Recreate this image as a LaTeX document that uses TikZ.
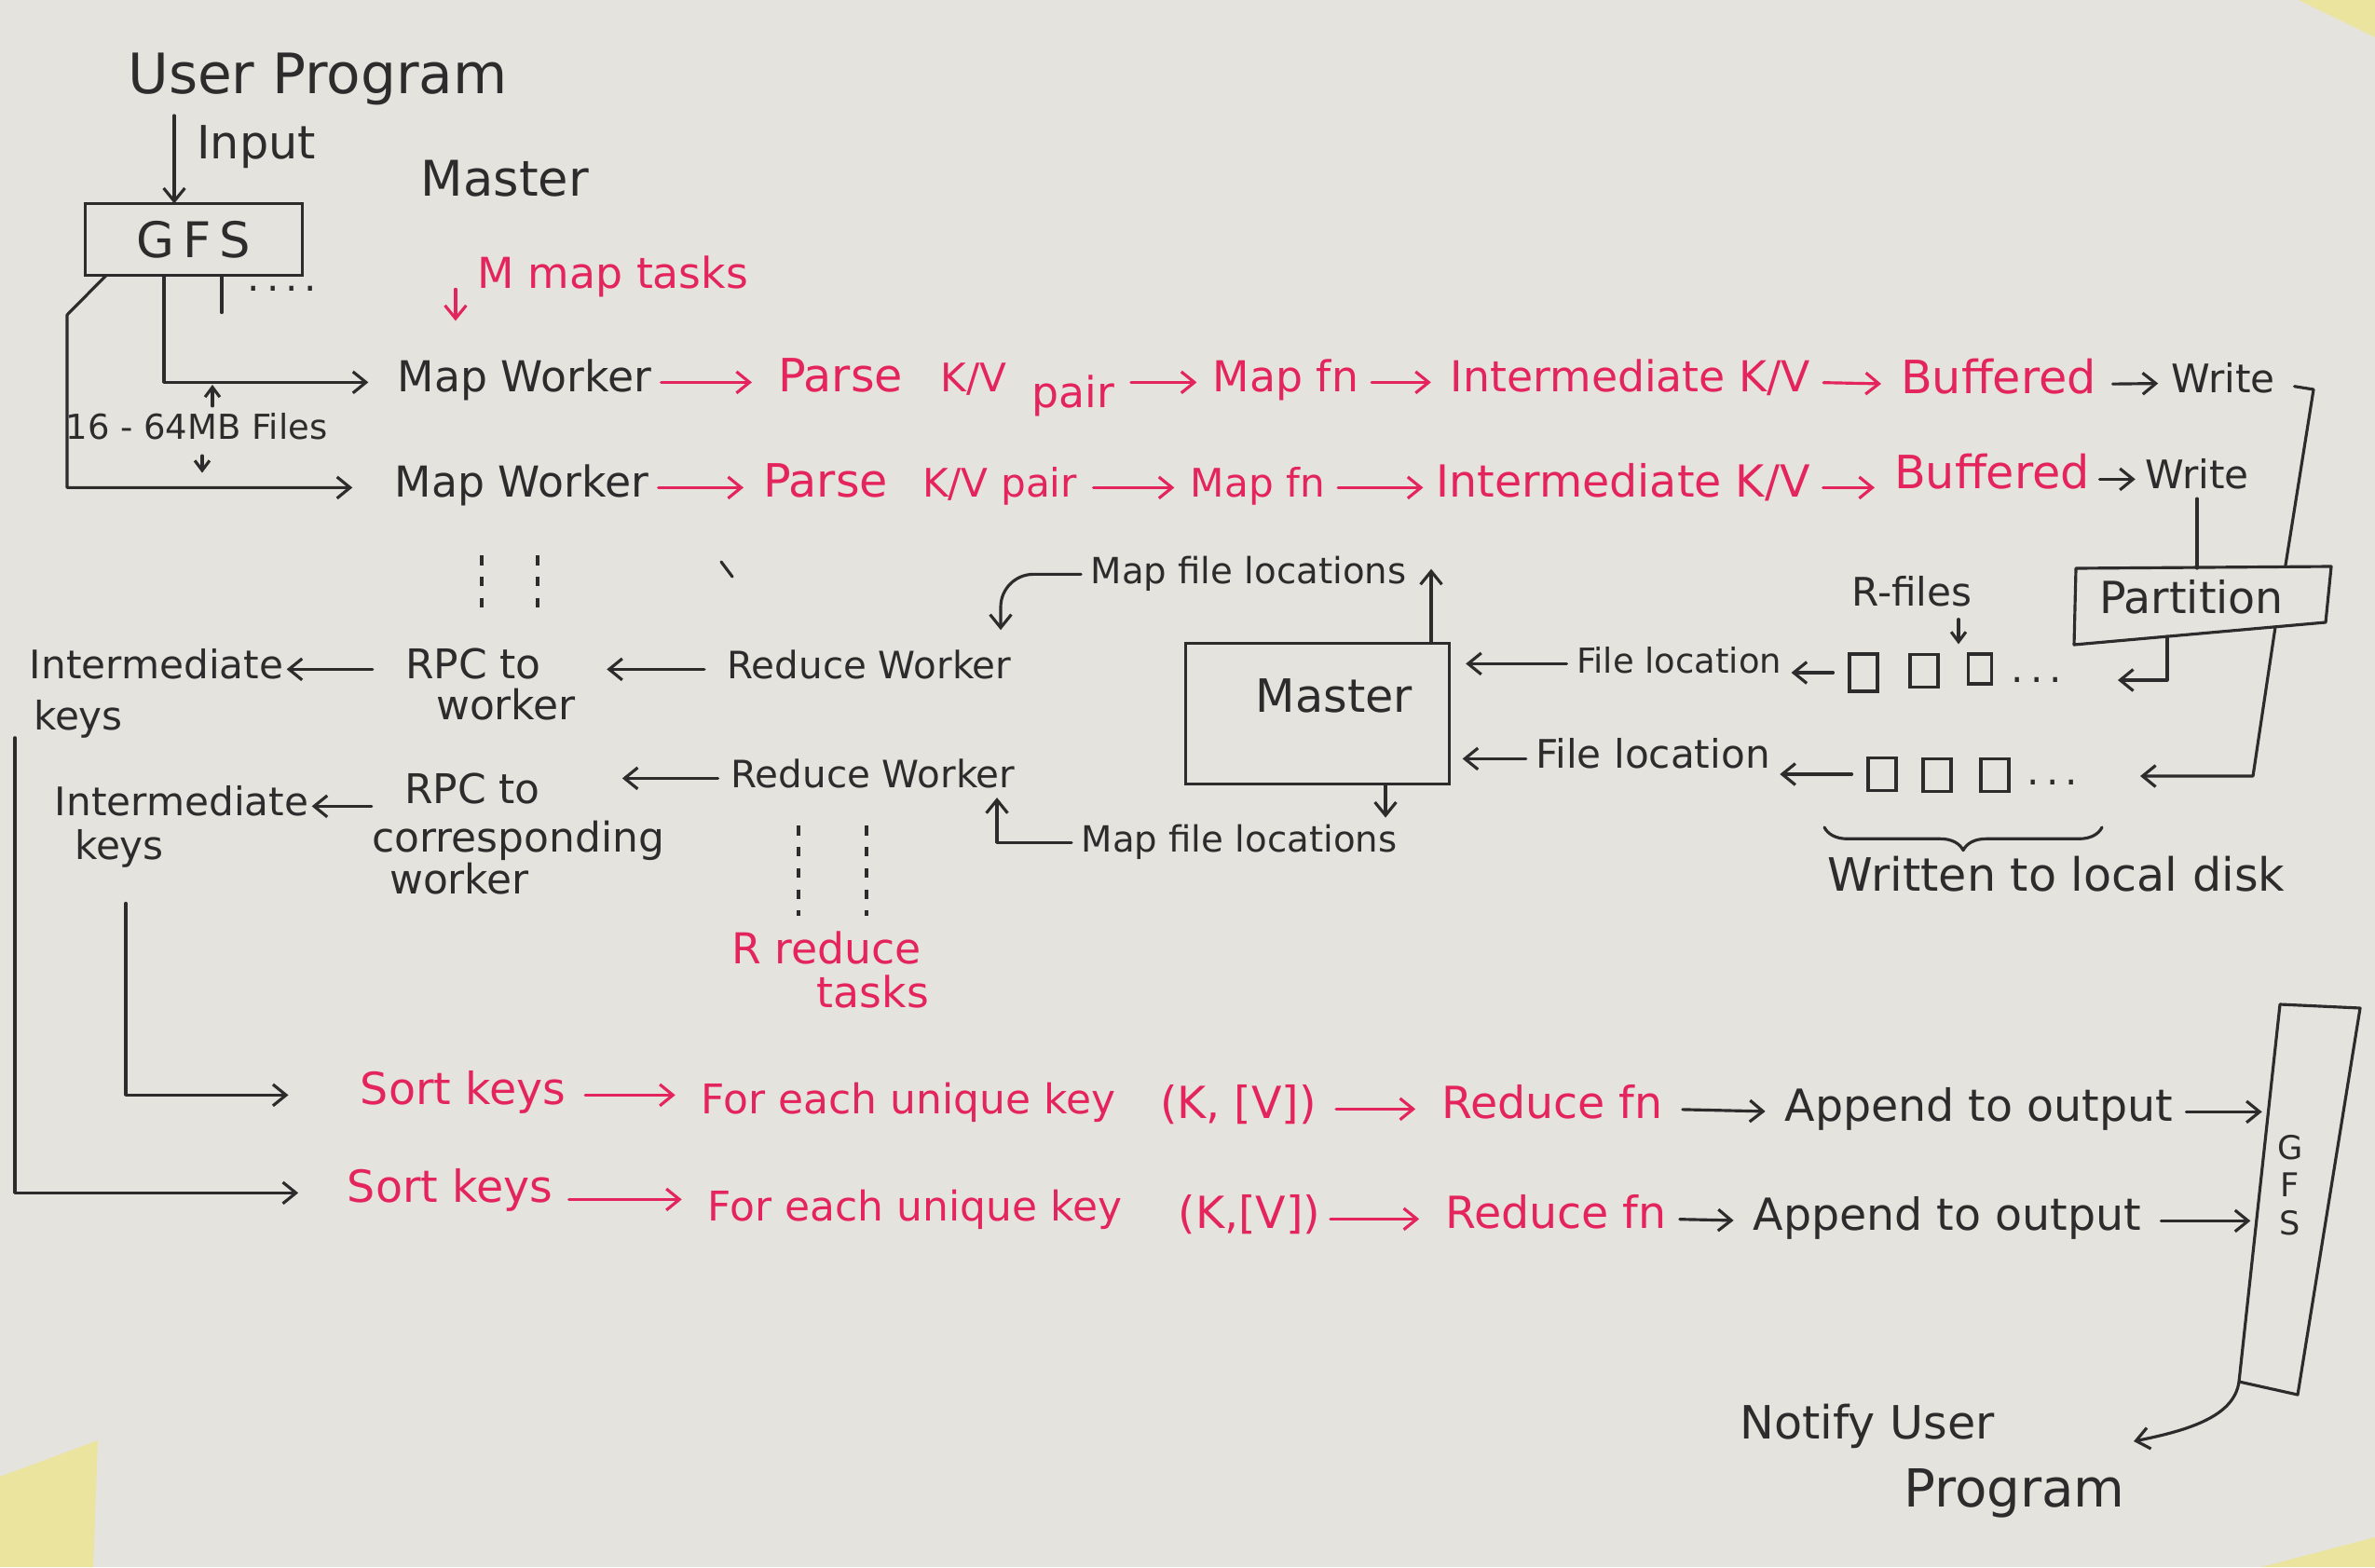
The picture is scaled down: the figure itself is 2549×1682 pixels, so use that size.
\documentclass[tikz,border=0pt]{standalone}
\usepackage{fontspec}
\setmainfont{DejaVu Sans}
\usetikzlibrary{arrows.meta,calc,decorations.pathreplacing}
\definecolor{paper}{RGB}{229,227,221}
\definecolor{ink}{RGB}{44,44,44}
\definecolor{redink}{RGB}{228,36,92}
\definecolor{sticky}{RGB}{234,228,158}
\newcommand{\fsz}[2]{\fontsize{#1}{#2}\selectfont}
\begin{document}
\begin{tikzpicture}[x=0.01cm, y=-0.01cm,
  every node/.style={inner sep=0pt, outer sep=0pt, text=ink},
  lbl/.style={anchor=base, font=\fsz{#1}{#1}},
  rt/.style={text=redink},
  ln/.style={draw=ink, line width=0.9pt, line cap=round, line join=round},
  arr/.style={ln, -{Straight Barb[length=4pt,width=6.5pt]}},
  sarr/.style={ln, -{Straight Barb[length=3pt,width=4.5pt]}},
  rarr/.style={arr, draw=redink},
  dsh/.style={ln, line cap=butt, dash pattern=on 3pt off 3.5pt},
  filebox/.style={draw=ink, line width=0.9pt, minimum width=0.30cm, minimum height=0.35cm},
]
% paper and the sticky notes peeking in at the corners
\fill[paper] (0,0) rectangle (2549,1682);
\useasboundingbox (0,0) rectangle (2549,1682);
\fill[sticky] (2467,0) -- (2549,0) -- (2549,40) -- cycle;
\fill[sticky] (0,1585) -- (105,1546) -- (100,1682) -- (0,1682) -- cycle;
\fill[sticky] (2427,1682) -- (2549,1650) -- (2549,1682) -- cycle;

% ---------------- input side ----------------
\node[lbl=17] (up) at (341,101) {User Program};
\node[lbl=14] (inp) at (275,171) {Input};
\node[lbl=15] (mtop) at (542,211) {Master};
\node[draw=ink, line width=0.9pt, minimum width=2.33cm, minimum height=0.77cm,
      font=\fsz{15}{15}] (gfs) at (208,257) {G\,F\,S};
\coordinate (xin) at (187,0);
\draw[arr, shorten <=3pt] (up.south -| xin) -- (gfs.north -| xin);

% map workers
\node[lbl=13] (mw1) at (563,420) {Map Worker};
\node[lbl=13] (mw2) at (560,533) {Map Worker};

% splits of the input files
\coordinate (x176) at (176,0);
\coordinate (x238) at (238,0);
\coordinate (x114) at (114,0);
\coordinate (bend) at (72,338);
\draw[arr, shorten >=9pt] (gfs.south -| x176) |- (mw1.mid west);
\draw[ln] (gfs.south -| x238) -- ++(0,40);
\node[font=\fsz{12}{12}] (gdots) at (303,310) {.\,.\,.\,.};
\draw[arr, shorten >=13pt] (gfs.south -| x114) -- (bend) |- (mw2.mid west);

\node[lbl=10.5] (files) at (211,471) {16 - 64MB Files};
\coordinate (x228) at (228,0);
\coordinate (x217) at (217,0);
\draw[sarr, shorten <=2pt] (files.north -| x228) -- ++(0,-30);
\draw[sarr, shorten <=5pt] (files.south -| x217) -- ++(0,36);

\node[lbl=13, rt] (mmt) at (658,309) {M map tasks};
\draw[rarr] (mmt.west) ++(-24,14) -- ++(0,34);

% ---------------- map phase, row 1 ----------------
\node[lbl=14, rt] (parse1) at (902,420) {Parse};
\node[lbl=12, rt] (kv1) at (1045,420) {K/V};
\node[lbl=13, rt] (pair1) at (1152,437) {pair};
\node[lbl=13, rt] (mapfn1) at (1380,420) {Map fn};
\node[lbl=13, rt] (inter1) at (1750,420) {Intermediate K/V};
\node[lbl=14, rt] (buf1) at (2145,422) {Buffered};
\node[lbl=12] (write1) at (2386,421) {Write};
\draw[rarr, shorten <=3pt, shorten >=8pt] (mw1.mid east) -- (parse1.mid west);
\draw[rarr, shorten <=5pt, shorten >=5pt] (pair1.east |- mapfn1.mid west) -- (mapfn1.mid west);
\draw[rarr, shorten <=4pt, shorten >=6pt] (mapfn1.mid east) -- (inter1.mid west);
\draw[rarr, shorten <=4pt, shorten >=6pt] (inter1.mid east) -- (buf1.mid west);
\draw[arr, shorten <=5pt, shorten >=4pt] (buf1.mid east) -- (write1.mid west);

% ---------------- map phase, row 2 ----------------
\node[lbl=14, rt] (parse2) at (886,533) {Parse};
\node[lbl=12, rt] (kvp2) at (1073,533) {K/V pair};
\node[lbl=12, rt] (mapfn2) at (1350,533) {Map fn};
\node[lbl=13.5, rt] (inter2) at (1742,533) {Intermediate K/V};
\node[lbl=14, rt] (buf2) at (2138,524) {Buffered};
\node[lbl=12] (write2) at (2358,524) {Write};
\draw[rarr, shorten <=3pt, shorten >=6pt] (mw2.mid east) -- (parse2.mid west);
\draw[rarr, shorten <=5pt, shorten >=5pt] (kvp2.mid east) -- (mapfn2.mid west);
\draw[rarr, shorten <=4pt, shorten >=4pt] (mapfn2.mid east) -- (inter2.mid west);
\draw[rarr, shorten <=4pt, shorten >=6pt] (inter2.mid east) -- (buf2.mid west |- inter2.mid east);
\draw[arr, shorten <=3pt, shorten >=3pt] (buf2.mid east) -- (write2.mid west);

% continuation marks
\draw[dsh] (517,596) -- (517,663);
\draw[dsh] (577,596) -- (577,663);
\draw[ln] (774,603) -- (786,619);

% ---------------- partition and local files ----------------
\coordinate (pa) at (2228,610);
\coordinate (pb) at (2502,608);
\coordinate (pc) at (2496,668);
\coordinate (pd) at (2226,692);
\draw[ln] (pa) -- (pb) -- (pc) -- (pd) -- cycle;
\node[lbl=13.5] (part) at (2352,658) {Partition};

\node[lbl=12] (rfl) at (2052,650) {R-files};
\node[filebox, minimum height=0.40cm] (f11) at (2000,722) {};
\node[filebox] (f12) at (2065,720) {};
\node[filebox, minimum width=0.25cm, minimum height=0.32cm] (f13) at (2125,718) {};
\node[font=\fsz{12}{12}] (dts1) at (2186,730) {.\,.\,.};
\node[filebox] (f21) at (2020,831) {};
\node[filebox] (f22) at (2079,832) {};
\node[filebox] (f23) at (2141,832) {};
\node[font=\fsz{12}{12}] (dts2) at (2203,840) {.\,.\,.};
\coordinate (xr) at (2102,0);
\draw[sarr, shorten <=4pt, shorten >=3pt] (rfl.south -| xr) -- (f13.north -| xr);

\coordinate (w1a) at (2483,418);
\coordinate (w1d) at (2418,833);
\draw[ln, shorten <=6pt] (write1.mid east) -- (w1a) -- ($(pa)!0.82!(pb)$);
\draw[arr, shorten >=19pt] ($(pd)!0.8!(pc)$) -- (w1d) -- (w1d -| dts2.east);
\draw[ln, shorten <=3pt] (write2.south) -- (write2.south |- pa);
\draw[arr, shorten >=17pt] ($(pd)!0.37!(pc)$) |- (dts1.east);

\draw[ln, decorate, decoration={brace, mirror, amplitude=7pt}] (1958,888) -- (2256,888);
\node[lbl=14] (wld) at (2207,956) {Written to local disk};

% ---------------- master ----------------
\node[draw=ink, line width=0.9pt, minimum width=2.83cm, minimum height=1.51cm] (master) at (1414,766) {};
\node[lbl=14] (mtxt) at (1432,764) {Master};
\node[lbl=11] (mfl1) at (1340,626) {Map file locations};
\node[lbl=11] (mfl2) at (1330,914) {Map file locations};
\node[lbl=10.5] (fl1) at (1802,722) {File location};
\node[lbl=12] (fl2) at (1774,824) {File location};
\draw[arr, shorten <=3pt, shorten >=5pt] (fl1.mid west) -- (fl1.mid west -| master.east);
\draw[arr, shorten <=5pt, shorten >=3pt] (f11.west) -- (f11.west -| fl1.east);
\draw[arr, shorten <=3pt, shorten >=4pt] (fl2.mid west) -- (fl2.mid west -| master.east);
\draw[arr, shorten <=5pt, shorten >=3pt] (f21.west) -- (f21.west -| fl2.east);

% ---------------- reduce workers ----------------
\node[lbl=12] (ik1) at (168,728) {Intermediate};
\node[lbl=12] (ky1) at (84,783) {keys};
\node[lbl=12.5] (rpc1) at (508,728) {RPC to};
\node[lbl=12.5] (wk1) at (543,772) {worker};
\node[lbl=11.5] (rw1) at (933,728) {Reduce Worker};
\draw[arr, shorten <=7pt, shorten >=20pt] (rw1.mid west) -- (rpc1.mid east |- rw1.mid west);
\draw[arr, shorten <=10pt, shorten >=1pt] (rpc1.mid west) -- (ik1.mid east);

\node[lbl=12] (ik2) at (195,875) {Intermediate};
\node[lbl=12] (ky2) at (128,922) {keys};
\node[lbl=12.5] (rpc2) at (507,862) {RPC to};
\node[lbl=12.5] (corr) at (556,914) {corresponding};
\node[lbl=12.5] (wk2) at (493,959) {worker};
\node[lbl=11.5] (rw2) at (937,845) {Reduce Worker};
\draw[arr, shorten <=4pt, shorten >=25pt] (rw2.mid west) -- (rpc2.mid east |- rw2.mid west);
\draw[arr, shorten <=10pt, shorten >=1pt] (rpc2.mid west |- ik2.mid east) -- (ik2.mid east);

\coordinate (xm1) at (1536,0);
\coordinate (xm2) at (1487,0);
\coordinate (xh1) at (1074,0);
\coordinate (xh2) at (1070,0);
\draw[arr, shorten >=4pt] (master.north -| xm1) -- (mfl1.north -| xm1);
\draw[arr, shorten >=2pt] (master.south -| xm2) -- (mfl2.north -| xm2);
\draw[arr, rounded corners=10pt, shorten <=3pt, shorten >=6pt] (mfl1.mid west) -| (rw1.north -| xh1);
\draw[arr, shorten <=3pt, shorten >=3pt] (mfl2.mid west) -| (rw2.south -| xh2);

\draw[dsh] (857,886) -- (857,983);
\draw[dsh] (930,886) -- (930,983);
\node[lbl=13, rt] (rrt) at (887,1034) {R reduce};
\node[lbl=13, rt] (tsk) at (937,1081) {tasks};

% ---------------- reduce phase ----------------
\node[lbl=13.5, rt] (sk1) at (497,1185) {Sort keys};
\node[lbl=12.5, rt] (fe1) at (975,1195) {For each unique key};
\node[lbl=13.5, rt] (kvb1) at (1329,1200) {(K, [V])};
\node[lbl=13.5, rt] (rf1) at (1666,1200) {Reduce fn};
\node[lbl=13.5] (ap1) at (2124,1203) {Append to output};

\node[lbl=13.5, rt] (sk2) at (483,1290) {Sort keys};
\node[lbl=12.5, rt] (fe2) at (982,1310) {For each unique key};
\node[lbl=13.5, rt] (kvb2) at (1341,1318) {(K,[V])};
\node[lbl=13.5, rt] (rf2) at (1670,1318) {Reduce fn};
\node[lbl=13.5] (ap2) at (2090,1320) {Append to output};

\coordinate (x16) at (16,0);
\coordinate (x135) at (135,0);
\draw[arr, shorten >=15pt] (ky1.south -| x16) |- (sk2.mid west);
\draw[arr, shorten <=11pt, shorten >=22pt] (ky2.south -| x135) |- (sk1.mid west);

\draw[rarr, shorten <=6pt, shorten >=8pt] (sk1.mid east) -- (fe1.mid west |- sk1.mid east);
\draw[rarr, shorten <=6pt, shorten >=8pt] (kvb1.mid east) -- (rf1.mid west);
\draw[arr, shorten <=6pt, shorten >=6pt] (rf1.mid east) -- (ap1.mid west);
\draw[rarr, shorten <=5pt, shorten >=8pt] ([yshift=-2pt]sk2.mid east) -- ([yshift=-2pt]sk2.mid east -| fe2.mid west);
\draw[rarr, shorten <=3pt, shorten >=8pt] (kvb2.mid east) -- (rf2.mid west);
\draw[arr, shorten <=4pt, shorten >=6pt] (rf2.mid east) -- (ap2.mid west);

% output file system
\coordinate (gtl) at (2447,1078);
\coordinate (gtr) at (2533,1082);
\coordinate (gbr) at (2466,1497);
\coordinate (gbl) at (2403,1483);
\draw[ln] (gtl) -- (gtr) -- (gbr) -- (gbl) -- cycle;
\node[font=\fsz{10}{11.5}, align=center] (gfs2) at (2458,1272) {G\\F\\S};
\coordinate (g1) at ($(gtl)!0.28!(gbl)$);
\coordinate (g2) at ($(gtl)!0.56!(gbl)$);
\draw[arr, shorten <=4pt, shorten >=2pt] (ap1.mid east) -- (ap1.mid east -| g1);
\draw[arr, shorten <=6pt, shorten >=2pt] (ap2.mid east) -- (ap2.mid east -| g2);

\node[lbl=14] (nu1) at (2004,1544) {Notify User};
\node[lbl=16] (nu2) at (2162,1617) {Program};
\coordinate (ntip) at (2290,1547);
\draw[arr] (gbl) .. controls (2398,1520) and (2350,1535) .. (ntip);
\end{tikzpicture}
\end{document}
